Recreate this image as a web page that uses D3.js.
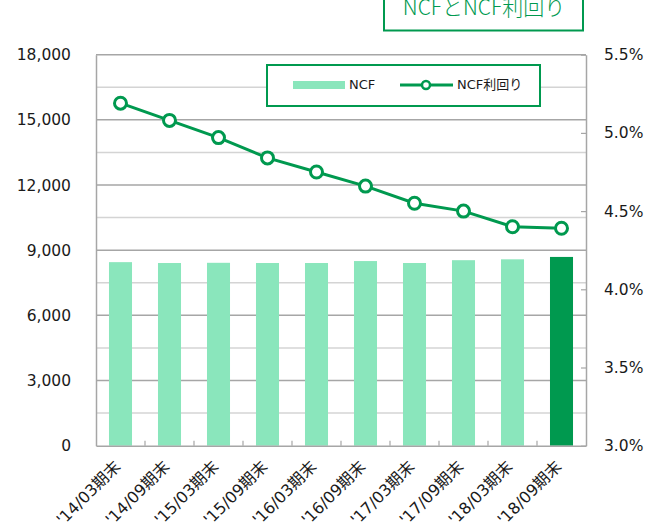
<!DOCTYPE html>
<html>
<head>
<meta charset="utf-8">
<script src="https://cdn.jsdelivr.net/npm/d3@7"></script>
<style>
  html, body { margin: 0; padding: 0; background: #fff; }
  svg { display: block; }
  text { font-family: "DejaVu Sans", "Noto Sans CJK JP", sans-serif; fill: #1a1a1a; }
</style>
</head>
<body>
<svg id="chart" width="654" height="528"></svg>
<script>
// Periods (fiscal period ends)
const categories = ["'14/03期末", "'14/09期末", "'15/03期末", "'15/09期末", "'16/03期末",
                    "'16/09期末", "'17/03期末", "'17/09期末", "'18/03期末", "'18/09期末"];
// NCF (left axis)
const ncfValues = [8450, 8410, 8420, 8410, 8410, 8500, 8410, 8540, 8580, 8690];
// NCF yield in percent (right axis)
const yieldValues = [5.19, 5.08, 4.97, 4.84, 4.75, 4.66, 4.55, 4.50, 4.40, 4.39];
// Axis ticks
const leftTicks = [0, 3000, 6000, 9000, 12000, 15000, 18000];
const rightTicks = [3.0, 3.5, 4.0, 4.5, 5.0, 5.5];
const gridStep = 1500;
const titleText = "NCFとNCF利回り";
const legendLabels = ["NCF", "NCF利回り"];

const GREEN = "#00994f";
const LIGHT = "#8ae6bc";
const GRID_MAJOR = "#a6a6a6";
const GRID_MINOR = "#d4d4d4";

const svg = d3.select("#chart");
const plot = { left: 96, right: 586, top: 54.7, bottom: 445.7 };

const x = d3.scaleBand().domain(categories)
  .range([plot.left, plot.right]).paddingInner(0.53).paddingOuter(0.265);
const yL = d3.scaleLinear().domain([0, 18000]).range([plot.bottom, plot.top]);
const yR = d3.scaleLinear().domain([3.0, 5.5]).range([plot.bottom, plot.top]);

// Horizontal gridlines every 1,500, darker on the labelled values
const gridVals = d3.range(gridStep, 18000 + 1, gridStep);
svg.append("g").selectAll("line").data(gridVals).join("line")
  .attr("x1", plot.left).attr("x2", plot.right)
  .attr("y1", d => yL(d)).attr("y2", d => yL(d))
  .attr("stroke", d => d % 3000 === 0 ? GRID_MAJOR : GRID_MINOR)
  .attr("stroke-width", 1.5);

// Bars
svg.append("g").selectAll("rect").data(categories).join("rect")
  .attr("x", d => x(d))
  .attr("width", x.bandwidth())
  .attr("y", (d, i) => yL(ncfValues[i]))
  .attr("height", (d, i) => yL(0) - yL(ncfValues[i]))
  .attr("fill", (d, i) => i === categories.length - 1 ? GREEN : LIGHT);

// Left axis
const axL = svg.append("g").attr("transform", `translate(${plot.left},0)`)
  .call(d3.axisLeft(yL).tickValues(leftTicks).tickSize(0).tickPadding(25)
    .tickFormat(d3.format(",")));
axL.select(".domain").attr("stroke", GRID_MAJOR).attr("stroke-width", 1.5);
axL.selectAll("text").style("font-size", "15.5px").attr("fill", "#1a1a1a");

// Right axis with inward ticks
const axR = svg.append("g").attr("transform", `translate(${plot.right},0)`)
  .call(d3.axisRight(yR).tickValues(rightTicks).tickSizeInner(-5).tickSizeOuter(0)
    .tickPadding(18).tickFormat(d => d.toFixed(1) + "%"));
axR.select(".domain").attr("stroke", GRID_MAJOR).attr("stroke-width", 1.5);
axR.selectAll(".tick line").attr("stroke", GRID_MAJOR).attr("stroke-width", 1.2);
axR.selectAll("text").style("font-size", "15.5px").attr("fill", "#1a1a1a");

// Bottom axis with inward ticks between categories and rotated labels
const axB = svg.append("g").attr("transform", `translate(0,${plot.bottom})`)
  .call(d3.axisBottom(x).tickSize(0).tickSizeOuter(0));
axB.select(".domain").attr("stroke", GRID_MAJOR).attr("stroke-width", 1.5);
axB.selectAll("text")
  .style("font-size", "16px")
  .attr("fill", "#1a1a1a")
  .attr("text-anchor", "end")
  .attr("dy", null)
  .attr("y", 0)
  .attr("transform", "translate(1,22) rotate(-45)");
const halfGap = (x.step() - x.bandwidth()) / 2;
svg.append("g").selectAll("line").data(categories.slice(1)).join("line")
  .attr("x1", d => x(d) - halfGap).attr("x2", d => x(d) - halfGap)
  .attr("y1", plot.bottom).attr("y2", plot.bottom - 5)
  .attr("stroke", GRID_MAJOR).attr("stroke-width", 1.2);

// Yield line with hollow markers
const lineGen = d3.line()
  .x((d, i) => x(categories[i]) + x.bandwidth() / 2)
  .y(d => yR(d));
svg.append("path").datum(yieldValues)
  .attr("d", lineGen).attr("fill", "none")
  .attr("stroke", GREEN).attr("stroke-width", 3);
svg.append("g").selectAll("circle").data(yieldValues).join("circle")
  .attr("cx", (d, i) => x(categories[i]) + x.bandwidth() / 2)
  .attr("cy", d => yR(d))
  .attr("r", 6)
  .attr("fill", "#fff").attr("stroke", GREEN).attr("stroke-width", 3);

// Legend
const lg = svg.append("g");
lg.append("rect").attr("x", 267).attr("y", 65).attr("width", 273).attr("height", 41)
  .attr("fill", "#fff").attr("stroke", GREEN).attr("stroke-width", 2);
lg.append("rect").attr("x", 293).attr("y", 81).attr("width", 52).attr("height", 8)
  .attr("fill", LIGHT);
lg.append("text").attr("x", 349).attr("y", 89).style("font-size", "13px").text(legendLabels[0]);
lg.append("line").attr("x1", 400).attr("x2", 453).attr("y1", 85).attr("y2", 85)
  .attr("stroke", GREEN).attr("stroke-width", 3);
lg.append("circle").attr("cx", 426).attr("cy", 85).attr("r", 4)
  .attr("fill", "#fff").attr("stroke", GREEN).attr("stroke-width", 2.5);
lg.append("text").attr("x", 457).attr("y", 89).style("font-size", "13px").text(legendLabels[1]);

// Title box
const tg = svg.append("g");
tg.append("rect").attr("x", 384).attr("y", -3).attr("width", 199).attr("height", 33.5)
  .attr("fill", "#fff").attr("stroke", GREEN).attr("stroke-width", 2);
tg.append("text").attr("x", 484).attr("y", 15).attr("text-anchor", "middle")
  .style("font-family", "'Noto Sans CJK JP', sans-serif")
  .style("font-weight", "300")
  .style("font-size", "21px").style("fill", GREEN).text(titleText);
</script>
</body>
</html>
